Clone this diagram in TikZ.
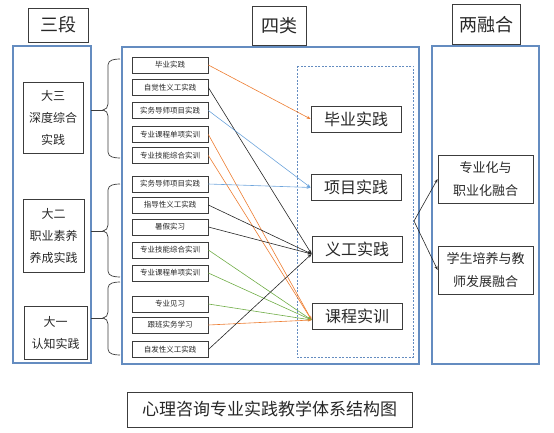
\documentclass[tikz,border=0pt]{standalone}
\usepackage{fontspec}
\newfontfamily\cjk{Noto Sans CJK SC}
\usetikzlibrary{arrows.meta}
\definecolor{frameblue}{RGB}{100,140,192}
\definecolor{arrorange}{RGB}{237,125,49}
\definecolor{arrblue}{RGB}{110,165,220}
\definecolor{arrgreen}{RGB}{112,173,71}
\definecolor{boxline}{RGB}{60,60,60}
\definecolor{txt}{RGB}{40,40,40}
\tikzset{
  bigframe/.style={draw=frameblue, line width=1.3pt},
  header/.style={draw=boxline, line width=0.8pt, inner sep=0pt, font=\cjk\fontsize{18}{20}\selectfont, text=txt},
  smallbox/.style={draw=boxline, line width=0.7pt, minimum width=76pt, minimum height=16pt, inner sep=0pt, font=\cjk\fontsize{7.5}{8}\selectfont, text=txt},
  catbox/.style={draw=boxline, line width=0.8pt, minimum width=90pt, minimum height=26pt, inner sep=0pt, font=\cjk\fontsize{16}{18}\selectfont, text=txt},
  stagebox/.style={draw=boxline, line width=0.8pt, inner sep=0pt, align=center, font=\cjk\fontsize{12}{22}\selectfont, text=txt},
  fusebox/.style={draw=boxline, line width=0.8pt, minimum width=95pt, minimum height=48pt, inner sep=0pt, align=center, font=\cjk\fontsize{13}{23}\selectfont, text=txt},
  conn/.style={line width=0.6pt, -{Stealth[length=4pt,width=3pt]}},
  bracepath/.style={draw=boxline, line width=0.7pt},
}
\begin{document}
\begin{tikzpicture}[x=1pt,y=-1pt]
\useasboundingbox (0,0) rectangle (554,433);
% headers
\node[header, minimum width=60pt, minimum height=34pt] (h1) at (58,25) {三段};
\node[header, minimum width=54pt, minimum height=39pt] (h2) at (279,25.5) {四类};
\node[header, minimum width=68pt, minimum height=40pt] (h3) at (486,24.5) {两融合};
% big frames
\draw[bigframe] (13,46) rectangle (91,363);
\draw[bigframe] (122,47) rectangle (419,364);
\draw[bigframe] (432,46) rectangle (539,364);
\draw[draw=frameblue, line width=0.6pt, dash pattern=on 2pt off 1.5pt] (297,66) rectangle (413,357);
% stage boxes
\node[stagebox, minimum width=60pt, minimum height=71pt] (s3) at (53,117.5) {大三\\深度综合\\实践};
\node[stagebox, minimum width=61pt, minimum height=73pt] (s2) at (53.5,235.5) {大二\\职业素养\\养成实践};
\node[stagebox, minimum width=63pt, minimum height=53pt] (s1) at (55.5,332.5) {大一\\认知实践};
% braces
\coordinate (b1) at (103,110);
\coordinate (b2) at (103,231);
\coordinate (b3) at (103,318);
\path[bracepath] (120,59) to[out=180,in=90] (108,65) -- (108,104) to[out=-90,in=0] (b1) to[out=0,in=90] (108,116) -- (108,152) to[out=-90,in=180] (120,158);
\path[bracepath] (120,184) to[out=180,in=90] (108,190) -- (108,225) to[out=-90,in=0] (b2) to[out=0,in=90] (108,237) -- (108,271) to[out=-90,in=180] (120,277);
\path[bracepath] (120,282) to[out=180,in=90] (108,288) -- (108,312) to[out=-90,in=0] (b3) to[out=0,in=90] (108,324) -- (108,349) to[out=-90,in=180] (120,355);
\draw[boxline, line width=0.7pt] (91,110) -- (b1);
\draw[boxline, line width=0.7pt] (91,231) -- (b2);
\draw[boxline, line width=0.7pt] (91,318) -- (b3);
% small boxes
\node[smallbox] (p1) at (170,65) {毕业实践};
\node[smallbox] (p2) at (170,87.5) {自觉性义工实践};
\node[smallbox] (p3) at (170,110.5) {实务导师项目实践};
\node[smallbox] (p4) at (170,134.5) {专业课程单项实训};
\node[smallbox] (p5) at (170,155.5) {专业技能综合实训};
\node[smallbox] (p6) at (170,184) {实务导师项目实践};
\node[smallbox] (p7) at (170,205) {指导性义工实践};
\node[smallbox] (p8) at (170,227) {暑假实习};
\node[smallbox] (p9) at (170,250) {专业技能综合实训};
\node[smallbox] (p10) at (170,273) {专业课程单项实训};
\node[smallbox] (p11) at (170,304) {专业见习};
\node[smallbox] (p12) at (170,325) {跟班实务学习};
\node[smallbox] (p13) at (170,349.5) {自发性义工实践};
% category boxes
\node[catbox] (c1) at (356,119) {毕业实践};
\node[catbox] (c2) at (356,187.5) {项目实践};
\node[catbox] (c3) at (357,249) {义工实践};
\node[catbox] (c4) at (357,316) {课程实训};
% fusion boxes
\node[fusebox] (f1) at (485.5,179) {专业化与\\职业化融合};
\node[fusebox] (f2) at (485.5,270) {学生培养与教\\师发展融合};
% connectors
\draw[conn, arrorange] (p1.east) -- (c1.west);
\draw[conn, black!85] (p2.east) -- ([yshift=-5pt]c3.west);
\draw[conn, arrblue] (p3.east) -- (c2.west);
\draw[conn, arrorange] (p4.east) -- ([yshift=-4pt]c4.west);
\draw[conn, arrorange] (p5.east) -- ([yshift=-4pt]c4.west);
\draw[conn, arrblue] (p6.east) -- (c2.west);
\draw[conn, black!85] (p7.east) -- ([yshift=-5pt]c3.west);
\draw[conn, black!85] (p8.east) -- ([yshift=-5pt]c3.west);
\draw[conn, arrgreen] (p9.east) -- ([yshift=-4pt]c4.west);
\draw[conn, arrgreen] (p10.east) -- ([yshift=-4pt]c4.west);
\draw[conn, arrgreen] (p11.east) -- ([yshift=-4pt]c4.west);
\draw[conn, arrorange] (p12.east) -- ([yshift=-4pt]c4.west);
\draw[conn, black!85] (p13.east) -- ([yshift=-5pt]c3.west);
% fusion arrows
\coordinate (apex) at (414,221);
\draw[conn, black!85] (apex) -- (f1.west);
\draw[conn, black!85] (apex) -- (f2.west);
% caption
\node[draw=boxline, line width=0.8pt, minimum width=285pt, minimum height=35pt, inner sep=0pt, font=\cjk\fontsize{17}{19}\selectfont, text=txt] (cap) at (269.5,409.5) {心理咨询专业实践教学体系结构图};
\end{tikzpicture}
\end{document}
